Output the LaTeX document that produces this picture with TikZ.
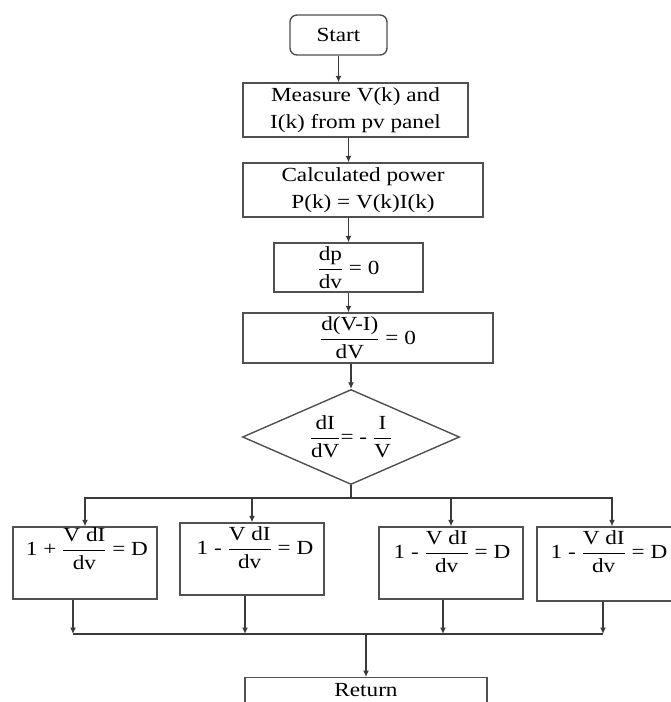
\documentclass[tikz,border=0pt]{standalone}
\usepackage{amsmath}
\usepackage{fontspec}
\setmainfont{Liberation Serif}[FakeStretch=1.16]
\usetikzlibrary{shapes.geometric,arrows.meta,calc}
\definecolor{boxc}{HTML}{505050}
\definecolor{linec}{HTML}{3A3A3A}
\newcommand\ff[2]{\genfrac{}{}{1.1pt}{0}{\mbox{#1}}{\mbox{#2}}}
\begin{document}
\begin{tikzpicture}[x=1pt,y=-1pt,
  font=\fontsize{20}{27}\selectfont,
  box/.style={draw=boxc, line width=1.4pt, inner sep=0pt, align=center},
  arr/.style={draw=linec, line width=1.2pt, -{Latex[length=6.5pt,width=6pt]}},
  ln/.style={draw=linec, line width=1.2pt}]
\useasboundingbox (0,0) rectangle (671,702);
\clip (0,0) rectangle (671,702);

\node[box, rounded corners=7pt, minimum width=97pt, minimum height=40pt] (start) at (338.5,35) {Start};
\node[box, minimum width=225pt, minimum height=54pt] (meas) at (355.5,110) {Measure V(k) and\\I(k) from pv panel};
\node[box, minimum width=240pt, minimum height=54pt] (calc) at (363,190) {Calculated power\\ P(k) = V(k)I(k)};
\node[box, minimum width=149pt, minimum height=49pt] (dpdv) at (348.5,267.5) {$\ff{dp}{dv}\mbox{ = 0}$};
\node[box, minimum width=250pt, minimum height=50pt] (dvi) at (368,338) {$\ff{d(V-I)}{dV}\mbox{ = 0}$};
\node[box, diamond, aspect=2.28, minimum width=217pt, minimum height=95pt] (dia) at (351,437) {$\ff{dI}{dV}\mbox{= - }\ff{I}{V}$};

\node[box, minimum width=144pt, minimum height=72pt] (b1) at (85,563) {};
\node[box, minimum width=144pt, minimum height=72pt] (b2) at (252,559) {};
\node[box, minimum width=144pt, minimum height=72pt] (b3) at (451,563) {};
\node[box, minimum width=138pt, minimum height=74pt] (b4) at (606,564) {};
\node (t1) at (87,549) {$\mbox{1 + }\ff{V dI}{dv}\mbox{ = D}$};
\node (t2) at (255,548) {$\mbox{1 - }\ff{V dI}{dv}\mbox{ = D}$};
\node (t3) at (452,552) {$\mbox{1 - }\ff{V dI}{dv}\mbox{ = D}$};
\node (t4) at (609,552) {$\mbox{1 - }\ff{V dI}{dv}\mbox{ = D}$};

\node[box, minimum width=242pt, minimum height=50pt, text depth=26pt, anchor=north] (ret) at (366,677) {Return};

\draw[arr] (start.south) -- (start.south |- meas.north);
\draw[arr] (meas.south -| dpdv.north) -- (calc.north -| dpdv.north);
\draw[arr] (calc.south -| dpdv.north) -- (dpdv.north);
\draw[arr] (dpdv.south) -- (dpdv.south |- dvi.north);
\draw[arr] (dvi.south -| dia.north) -- (dia.north);

\coordinate (bus) at (351,498);
\draw[ln] (dia.south) -- (bus);
\draw[arr] (bus) -| (b1.north);
\draw[arr] (bus) -| (b2.north);
\draw[arr] (bus) -| (b3.north);
\draw[arr] (bus) -| ($(b4.north)+(6,0)$);

\coordinate (mrg) at (366,634);
\coordinate (o1) at ($(b1.south)+(-12,0)$);
\coordinate (o2) at ($(b2.south)+(-7,0)$);
\coordinate (o3) at ($(b3.south)+(-8,0)$);
\coordinate (o4) at ($(b4.south)+(-3,0)$);
\draw[arr] (o1) -- (o1 |- mrg);
\draw[arr] (o2) -- (o2 |- mrg);
\draw[arr] (o3) -- (o3 |- mrg);
\draw[arr] (o4) -- (o4 |- mrg);
\draw[ln] (o1 |- mrg) -- (o4 |- mrg);
\draw[arr] (mrg) -- (ret.north);
\end{tikzpicture}
\end{document}
